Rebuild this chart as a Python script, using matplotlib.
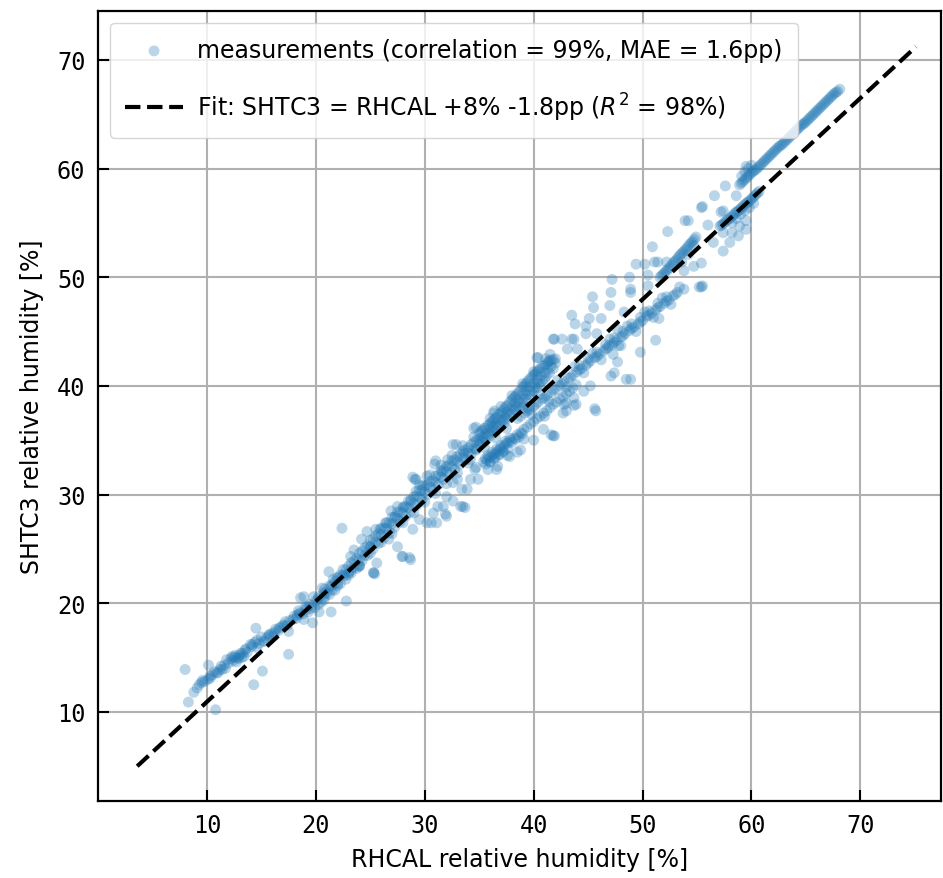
import matplotlib
matplotlib.use("Agg")
import matplotlib.pyplot as plt
import numpy as np

# ---------------- data ----------------
low_x = [8.0, 8.3, 8.8, 9.1, 9.5, 10.15, 10.3, 10.8, 10.9, 11.4, 11.8, 12.3, 12.8, 13.1, 13.5,
         14.0, 14.3, 14.5, 14.6, 15.1, 15.2, 15.7, 16.2, 16.6, 17.1, 17.5, 17.5, 18.0, 18.5, 18.6,
         18.9, 19.2, 19.7, 20.0, 20.3, 20.6, 21.4, 21.4, 22.0, 22.8, 23.2, 24.0, 25.4]
low_y = [13.9, 10.9, 11.8, 12.2, 12.7, 14.3, 13.1, 10.2, 13.6, 13.9, 14.8, 15.1, 15.0, 15.4, 15.7,
         16.2, 12.5, 17.7, 15.9, 13.75, 16.5, 17.0, 17.3, 17.7, 17.9, 15.3, 17.4, 18.8, 19.1, 20.5,
         18.5, 19.7, 18.2, 20.2, 19.2, 21.4, 19.2, 21.5, 22.3, 20.2, 23.0, 23.4, 22.7]

lowfill_x = [9.6, 10.1, 10.5, 11.0, 11.3, 11.7, 12.0, 12.4, 12.7, 13.0, 13.3, 13.7, 14.1, 14.4, 14.8,
             15.0, 15.5, 15.9, 16.3, 16.8, 17.2, 17.6, 18.2, 18.4, 18.8, 19.3, 19.6, 19.9, 20.2, 20.5,
             12.5, 12.9, 13.4, 18.3, 19.0, 19.4, 20.8, 19.8,
             9.3, 9.8, 10.3, 10.7, 11.2, 11.6, 12.2, 12.6, 13.2, 13.6, 14.2, 14.6, 15.3, 15.7, 16.1,
             16.6, 17.0, 17.4, 17.9, 18.5, 19.1, 19.5]
lowfill_y = [12.9, 13.0, 13.4, 13.6, 14.2, 14.0, 14.5, 14.7, 14.6, 15.2, 15.4, 15.5, 16.0, 16.4, 16.3,
             16.9, 16.8, 17.2, 17.6, 17.8, 18.3, 18.4, 18.6, 19.3, 19.0, 19.2, 19.8, 19.6, 20.4, 20.1,
             15.0, 14.9, 15.1, 18.9, 19.6, 19.9, 20.9, 20.6,
             12.5, 12.8, 13.3, 13.7, 13.9, 14.3, 14.9, 15.2, 15.0, 15.8, 16.2, 16.6, 16.5, 17.1, 17.0,
             17.5, 18.0, 18.0, 18.5, 19.0, 19.4, 19.5]

mid_x = [18.9, 21.2, 22.4, 21.6, 22.6, 23.2, 23.5, 24.0, 24.2, 24.7, 25.0, 25.3, 25.6, 25.9, 26.4,
         26.7, 26.9, 27.3, 27.5, 27.9, 28.1, 28.6, 28.7, 28.9, 29.2, 29.2, 29.5, 29.8, 30.2, 30.6,
         30.9, 31.2, 31.6, 31.9, 32.1, 32.6, 32.9, 33.0, 33.5, 33.6, 33.9, 34.2, 34.6, 34.7]
mid_y = [20.6, 22.9, 26.9, 22.2, 22.5, 24.3, 24.9, 23.4, 25.9, 26.6, 25.2, 22.8, 23.7, 26.8, 27.4,
         25.9, 28.5, 28.0, 25.2, 24.3, 28.9, 24.2, 29.5, 26.8, 30.3, 31.4, 27.7, 30.8, 31.7, 27.4,
         32.8, 28.9, 32.1, 28.2, 33.2, 29.4, 34.6, 31.4, 28.9, 33.8, 30.5, 33.2, 32.3, 34.2]

bandmid_x = [20.8, 20.8, 21.0, 21.5, 21.5, 22.0, 22.0, 22.5, 22.5, 23.0, 23.0, 23.5, 23.5, 24.0, 24.0,
             24.5, 24.5, 25.0, 25.0, 25.5, 25.5, 25.5, 26.0, 26.0, 26.5, 26.5, 27.0, 27.0, 27.5, 27.5,
             27.5, 28.0, 28.0, 28.5, 28.5, 29.0, 29.0, 29.5, 29.5, 29.5, 30.0, 30.0, 30.5, 30.5, 30.5,
             31.0, 31.0, 31.5, 31.5, 31.5, 32.0, 32.0, 32.5, 32.5, 32.5, 33.0, 33.0, 33.5, 33.5, 33.5,
             34.0, 34.0, 34.5, 34.5, 34.5,
             26.0, 27.0, 28.0, 29.0, 30.0, 31.0, 32.0, 33.0, 34.0, 24.0, 25.0, 23.0, 22.0]
bandmid_y = [20.6, 21.3, 20.9, 21.7, 21.2, 22.4, 21.8, 22.6, 23.1, 23.4, 22.8, 23.9, 23.3, 24.6, 24.0,
             25.1, 24.4, 25.8, 25.2, 26.2, 25.6, 26.8, 26.9, 26.3, 27.4, 26.9, 27.9, 27.3, 28.4, 27.8,
             28.9, 28.8, 28.3, 29.4, 28.8, 29.8, 29.2, 30.4, 29.8, 30.9, 30.8, 30.2, 31.2, 30.7, 31.8,
             31.7, 31.1, 32.2, 31.6, 32.7, 32.6, 32.1, 33.1, 32.6, 33.6, 33.5, 33.0, 34.0, 33.4, 34.5,
             34.3, 33.8, 34.8, 34.2, 35.3,
             25.6, 26.4, 27.4, 28.3, 29.3, 30.1, 31.0, 32.0, 32.9, 23.5, 24.6, 22.6, 21.6]

bandext_x = [20.25, 20.75, 21.25, 21.75, 22.25, 22.75, 23.25, 23.75, 24.25, 24.75, 25.25, 25.75,
             26.25, 26.75, 27.25, 27.75, 28.25, 28.75, 29.25, 29.75, 30.25, 30.75, 31.25, 31.75,
             32.25, 32.75, 33.25, 33.75, 34.25, 34.75,
             20.25, 20.75, 21.25, 21.75, 22.25, 22.75, 23.25, 23.75, 24.25, 24.75, 25.25, 25.75,
             26.25, 26.75, 27.25, 27.75, 28.25, 28.75, 29.25, 29.75, 30.25, 30.75, 31.25, 31.75,
             32.25, 32.75, 33.25, 33.75, 34.25, 34.75]
bandext_y = [20.6, 21.0, 21.6, 22.0, 22.6, 23.1, 23.7, 24.1, 24.8, 25.3, 25.9, 26.4,
             26.9, 27.4, 27.9, 28.4, 28.9, 29.4, 29.9, 30.4, 30.9, 31.3, 31.8, 32.3,
             32.7, 33.2, 33.7, 34.1, 34.6, 35.0,
             19.9, 20.3, 20.8, 21.2, 21.8, 22.2, 22.8, 23.2, 23.9, 24.4, 25.0, 25.5,
             26.0, 26.5, 27.0, 27.5, 28.0, 28.4, 29.0, 29.5, 30.0, 30.4, 30.9, 31.4,
             31.8, 32.3, 32.8, 33.2, 33.7, 34.1]

up_x = [35.0, 35.0, 35.0, 35.3, 35.3, 35.3, 35.6, 35.6, 35.6, 36.0, 36.0, 36.0, 36.3, 36.3, 36.3,
        36.6, 36.6, 36.6, 37.0, 37.0, 37.0, 37.3, 37.3, 37.3, 37.6, 37.6, 37.6, 38.0, 38.0, 38.0,
        38.3, 38.3, 38.3, 38.6, 38.6, 38.6, 39.0, 39.0, 39.0, 39.3, 39.3, 39.3, 39.6, 39.6, 39.6,
        40.0, 40.0, 40.0, 40.3, 40.3, 40.3, 40.6, 40.6, 40.6, 41.0, 41.0, 41.0, 41.3, 41.3, 41.6,
        41.6, 42.0, 42.0,
        35.5, 36.5, 37.5, 38.5, 39.5, 36.0, 37.0, 38.0, 39.0, 40.0,
        35.15, 35.45, 35.8, 36.15, 36.45, 36.8, 37.15, 37.45, 37.8, 38.15, 38.45, 38.8, 39.15,
        39.45, 39.8, 40.15, 40.45, 40.8, 41.15, 41.45, 41.8,
        35.15, 35.45, 35.8, 36.15, 36.45, 36.8, 37.15, 37.45, 37.8, 38.15, 38.45, 38.8, 39.15,
        39.45, 39.8, 40.15, 40.45, 40.8, 41.15, 41.45, 41.8]
up_y = [35.6, 35.1, 34.6, 35.9, 35.3, 34.8, 36.1, 35.6, 35.0, 36.5, 36.0, 35.4, 36.8, 36.3, 35.7,
        37.1, 36.6, 35.9, 37.5, 36.9, 36.3, 37.9, 37.3, 36.6, 38.2, 37.6, 37.0, 38.7, 38.0, 37.4,
        39.0, 38.4, 37.8, 39.4, 38.7, 38.1, 39.9, 39.2, 38.5, 40.2, 39.5, 38.8, 40.6, 39.9, 39.2,
        41.0, 40.2, 39.5, 41.3, 40.5, 39.8, 41.6, 40.9, 40.2, 41.9, 41.2, 40.6, 42.2, 41.5, 42.4,
        41.8, 42.5, 42.1,
        34.3, 35.2, 36.1, 37.0, 38.0, 37.0, 38.1, 39.1, 40.2, 41.3,
        35.8, 36.1, 36.4, 36.7, 37.0, 37.4, 37.7, 38.1, 38.5, 38.9, 39.2, 39.6, 40.0,
        40.4, 40.8, 41.1, 41.4, 41.8, 42.0, 42.3, 42.4,
        34.9, 35.2, 35.5, 35.8, 36.1, 36.4, 36.8, 37.1, 37.4, 37.8, 38.1, 38.4, 38.8,
        39.2, 39.5, 39.9, 40.2, 40.5, 40.9, 41.2, 41.6]

l1_x = [35.4, 35.7, 35.9, 36.1, 36.3, 36.5, 36.7, 36.9, 37.1, 37.3, 37.5, 37.7, 37.9, 38.2, 38.5,
        38.8, 39.1, 39.4, 39.7, 40.0, 40.3, 40.6, 40.9, 41.2, 41.5, 41.8, 42.1, 42.4, 42.7, 43.0,
        43.3, 43.6, 43.9, 36.0, 36.4, 36.8, 37.2, 37.6,
        35.55, 35.8, 36.2, 36.6, 37.0, 37.4, 37.8, 38.0, 38.35, 38.65, 38.95, 35.6, 36.0, 36.4,
        36.8, 37.2]
l1_y = [33.0, 33.2, 33.4, 33.5, 33.7, 33.8, 34.0, 34.2, 34.3, 34.5, 34.7, 34.8, 35.0, 35.2, 35.5,
        35.7, 36.0, 36.2, 36.5, 36.7, 37.0, 37.2, 37.5, 37.7, 38.0, 38.3, 38.5, 38.8, 39.0, 39.3,
        39.5, 39.8, 40.1, 33.0, 33.3, 33.6, 33.9, 34.2,
        33.3, 33.6, 33.9, 34.2, 34.5, 34.9, 35.2, 34.8, 35.1, 35.3, 35.6, 32.8, 33.0, 33.4,
        33.7, 34.0]

l2_x = [38.8, 39.2, 39.6, 40.0, 40.4, 40.8, 41.2, 41.6, 42.0, 42.4, 42.8, 43.2, 43.6, 44.0, 44.4,
        44.8, 45.2, 45.6, 46.0, 46.4, 46.8, 47.2, 47.6, 48.0, 48.4, 48.8, 49.2, 49.6, 50.0, 50.4,
        50.8, 51.2, 51.6, 52.0, 52.4, 52.8, 53.2,
        39.0, 39.8, 40.6, 41.4, 42.2, 43.0, 43.8, 44.6, 45.4, 46.2, 47.0, 47.8, 48.6, 49.4, 50.2,
        51.0, 51.8, 52.6,
        39.4, 40.2, 41.0, 41.8, 42.6, 43.4, 44.2, 45.0, 45.8, 46.6, 47.4, 48.2, 49.0, 49.8, 50.6,
        51.4, 52.2, 53.0,
        44.2, 45.0, 45.8, 46.6, 47.4, 48.2, 49.0, 49.8, 50.6, 51.4, 52.2]
l2_y = [37.2, 37.5, 37.8, 38.1, 38.5, 38.8, 39.1, 39.4, 39.7, 40.0, 40.4, 40.7, 41.0, 41.3, 41.6,
        41.9, 42.3, 42.6, 42.9, 43.2, 43.5, 43.8, 44.2, 44.5, 44.8, 45.1, 45.4, 45.7, 46.0, 46.4,
        46.7, 47.0, 47.3, 47.6, 47.9, 48.3, 48.6,
        37.9, 37.4, 39.2, 38.6, 40.5, 39.9, 41.8, 41.2, 43.0, 42.4, 44.3, 43.7, 45.5, 45.0, 46.8,
        46.3, 48.1, 47.5,
        37.7, 38.3, 38.9, 39.6, 40.2, 40.8, 41.5, 42.1, 42.7, 43.4, 44.0, 44.6, 45.3, 45.9, 46.5,
        47.2, 47.8, 48.4,
        41.9, 42.5, 43.1, 43.8, 44.4, 45.0, 45.7, 46.3, 46.9, 47.6, 48.2]

s_x = [51.6, 51.9, 52.2, 52.5, 52.8, 53.1, 53.4, 53.7, 54.0, 54.3, 54.6, 54.9, 53.6, 54.2, 54.7,
       51.75, 52.05, 52.35, 52.65, 52.95, 53.25, 53.55, 53.85, 54.15, 54.45, 54.75]
s_y = [50.0, 50.3, 50.6, 50.9, 51.3, 51.6, 52.0, 52.3, 52.6, 53.0, 53.3, 53.7, 51.4, 52.1, 52.9,
       50.15, 50.45, 50.75, 51.1, 51.45, 51.8, 52.15, 52.45, 52.8, 53.15, 53.5]

m_x = [57.1, 57.4, 57.7, 58.0, 58.3, 58.6, 58.9, 59.2, 59.5, 59.8, 60.1, 60.4, 60.7, 58.2, 58.6,
       59.0, 59.4, 59.8, 60.2,
       57.25, 57.55, 57.85, 58.15, 58.45, 58.75, 59.05, 59.35, 59.65, 59.95, 60.25, 60.55]
m_y = [54.7, 54.9, 55.2, 55.4, 55.7, 56.0, 56.2, 56.5, 56.8, 57.0, 57.3, 57.6, 57.9, 55.0, 55.4,
       55.8, 56.1, 56.4, 56.8,
       54.8, 55.05, 55.3, 55.55, 55.85, 56.1, 56.35, 56.65, 56.9, 57.15, 57.45, 57.75]

t_x = [58.9, 59.2, 59.5, 59.8, 60.1, 60.4, 60.7, 61.0, 61.3, 61.6, 61.9, 62.2, 62.5, 62.8, 63.1,
       63.4, 63.7, 64.0, 64.3, 64.6, 64.9, 65.2, 65.5, 65.8, 66.1, 66.4, 66.7, 67.0, 67.3, 67.6,
       67.9, 68.1, 59.1, 59.4, 59.7, 60.0,
       59.05, 59.35, 59.65, 59.95, 60.25, 60.55, 60.85, 61.15, 61.45, 61.75, 62.05, 62.35, 62.65,
       62.95, 63.25, 63.55, 63.85, 64.15, 64.45, 64.75, 65.05, 65.35, 65.65, 65.95, 66.25, 66.55,
       66.85, 67.15, 67.45, 67.75]
t_y = [58.5, 58.8, 59.1, 59.4, 59.7, 59.9, 60.2, 60.5, 60.8, 61.1, 61.4, 61.7, 62.0, 62.2, 62.5,
       62.8, 63.1, 63.4, 63.7, 64.0, 64.2, 64.5, 64.8, 65.1, 65.4, 65.7, 66.0, 66.3, 66.6, 66.9,
       67.1, 67.3, 59.3, 59.7, 60.0, 60.3,
       58.65, 58.95, 59.25, 59.55, 59.8, 60.05, 60.35, 60.65, 60.95, 61.25, 61.55, 61.85, 62.1,
       62.35, 62.65, 62.95, 63.25, 63.55, 63.85, 64.1, 64.35, 64.65, 64.95, 65.25, 65.55, 65.85,
       66.15, 66.45, 66.75, 67.0]

sc_x = [45.4, 47.2, 48.8, 49.4, 50.2, 51.1, 50.9, 52.2, 45.5, 47.0, 43.5, 43.8, 45.1, 46.2, 41.8,
        42.6, 43.5, 44.8, 45.8, 47.7, 48.3, 48.9, 41.1, 43.1, 44.0, 46.9, 48.0, 50.5, 50.5, 53.8,
        53.4, 55.4, 40.3, 41.5, 44.8, 47.1, 48.9, 51.4, 52.3, 54.2, 55.5, 57.2,
        43.7, 44.6, 45.2, 47.1, 47.4, 48.9, 49.8, 51.2, 51.5, 55.2, 47.7, 45.7, 48.5,
        28.9, 34.7, 36.4, 40.4, 41.9, 43.7, 38.5, 41.9, 42.8, 43.7, 41.0, 39.1, 37.6, 36.7, 35.8,
        34.7, 32.6, 33.4, 34.2, 34.9, 32.0, 30.8, 31.7, 33.3, 33.7, 32.0, 31.1, 30.2, 36.6, 37.8,
        38.8, 40.0, 40.9, 41.8, 42.7, 43.0, 43.9, 36.3, 34.5, 32.6, 31.0, 29.1, 28.7, 28.0, 25.3,
        53.8, 55.5, 43.0, 45.6, 41.6, 47.3]
sc_y = [48.2, 49.8, 50.0, 51.2, 51.2, 51.4, 52.8, 51.4, 47.2, 47.4, 46.5, 45.7, 46.2, 46.2, 44.3,
        44.3, 44.3, 44.8, 44.8, 45.2, 46.8, 48.6, 42.5, 43.4, 43.4, 43.7, 43.7, 50.2, 49.2, 50.6,
        49.1, 49.1, 42.6, 42.9, 45.5, 48.6, 48.9, 51.4, 54.2, 55.2, 56.5, 56.0,
        38.9, 39.5, 40.0, 40.9, 41.2, 40.6, 43.1, 44.2, 46.2, 49.1, 42.2, 37.7, 40.6,
        31.6, 36.2, 37.7, 42.6, 44.3, 44.3, 33.9, 35.4, 38.3, 38.2, 37.2, 35.1, 33.6, 32.6, 32.3,
        32.5, 31.1, 30.5, 31.4, 31.4, 29.8, 28.3, 28.9, 28.9, 28.8, 28.0, 27.4, 27.4, 32.3, 33.5,
        34.1, 35.0, 36.0, 35.4, 37.5, 38.4, 38.3, 37.5, 36.1, 34.6, 33.1, 31.4, 24.0, 24.3, 22.8,
        48.9, 49.2, 37.7, 37.9, 35.5, 42.9]

top_x = [53.9, 55.4, 56.6, 57.6, 58.6, 59.5, 57.4, 56.0, 57.4, 58.2, 58.9, 59.5, 58.8, 57.4, 58.0,
         56.5, 59.5, 54.7, 55.4]
top_y = [55.2, 56.4, 57.5, 58.4, 57.5, 60.2, 56.1, 54.8, 54.1, 54.1, 54.7, 55.2, 53.8, 52.4, 53.2,
         53.2, 54.4, 51.0, 51.3]

# linear fit: SHTC3 = RHCAL * (1 + 8%) - 1.8pp (drawn as in the reference)
fit_gain = 1.08
fit_offset = -1.8
fit_x = [3.6, 75.1]

scatter_label = "measurements (correlation = 99%, MAE = 1.6pp)"
fit_label = r"Fit: SHTC3 = RHCAL +8% -1.8pp ($R^2$ = 98%)"
ticks = [10, 20, 30, 40, 50, 60, 70]

# ---------------- plot ----------------
xs = np.concatenate([low_x, lowfill_x, mid_x, bandmid_x, bandext_x, up_x, l1_x, l2_x,
                     s_x, m_x, t_x, sc_x, top_x])
ys = np.concatenate([low_y, lowfill_y, mid_y, bandmid_y, bandext_y, up_y, l1_y, l2_y,
                     s_y, m_y, t_y, sc_y, top_y])

plt.rcParams['font.family'] = ['DejaVu Sans']
fig = plt.figure(figsize=(9.43, 8.79), dpi=100)
ax = fig.add_axes([0.1039, 0.0876, 0.894, 0.8988])

ax.scatter(xs, ys, s=62, color='#1f77b4', alpha=0.3, edgecolors='none', label=scatter_label, zorder=2)
fx = np.array(fit_x)
fy = (fx - fit_offset) / fit_gain
ax.plot(fx, fy, 'k--', lw=3, label=fit_label, zorder=3)

ax.set_xlim(0, 77.4)
ax.set_ylim(1.8, 74.5)
ax.set_xticks(ticks)
ax.set_yticks(ticks)
ax.grid(True, color='#b0b0b0', lw=1.5)
ax.set_axisbelow(True)
ax.tick_params(direction='in', length=8, width=1.5, pad=9, labelsize=17)
for lab in ax.get_xticklabels() + ax.get_yticklabels():
    lab.set_fontfamily('DejaVu Sans Mono')
for sp in ax.spines.values():
    sp.set_linewidth(1.6)

ax.set_xlabel('RHCAL relative humidity [%]', fontsize=17, labelpad=7)
ax.set_ylabel('SHTC3 relative humidity [%]', fontsize=17, labelpad=9)
ax.legend(loc='upper left', fontsize=17, labelspacing=1.2, borderpad=0.65,
          handletextpad=0.6, framealpha=0.8, handlelength=2.45)

fig.savefig('out.png', dpi=100)
